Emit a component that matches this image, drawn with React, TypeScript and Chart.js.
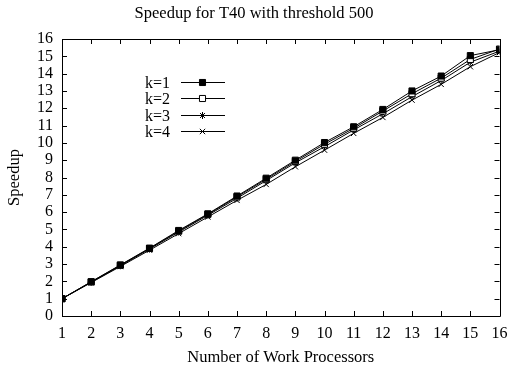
import React, { useEffect, useRef } from "react";
import { Chart, registerables } from "chart.js";
import { drawPoint } from "chart.js/helpers";

Chart.register(...registerables);

const processors = [1, 2, 3, 4, 5, 6, 7, 8, 9, 10, 11, 12, 13, 14, 15, 16];
const seriesLabels = ["k=1", "k=2", "k=3", "k=4"];
const k1 = [1, 1.98, 2.95, 3.92, 4.94, 5.9, 6.93, 7.96, 9.0, 10.02, 10.93, 11.93, 13.0, 13.86, 15.04, 15.38];
const k2 = [1, 1.97, 2.93, 3.9, 4.9, 5.87, 6.88, 7.9, 8.93, 9.92, 10.84, 11.84, 12.84, 13.74, 14.82, 15.42];
const k3 = [1, 1.95, 2.9, 3.87, 4.85, 5.82, 6.8, 7.82, 8.85, 9.78, 10.75, 11.68, 12.67, 13.6, 14.66, 15.3];
const k4 = [1, 1.93, 2.86, 3.8, 4.76, 5.72, 6.68, 7.6, 8.62, 9.58, 10.55, 11.47, 12.47, 13.38, 14.4, 15.22];
const seriesValues = [k1, k2, k3, k4];
const pointStyles = ["rect", "rect", "star", "crossRot"];
const pointFills = ["#000000", "#ffffff", "#000000", "#000000"];
const pointRadii = [4.3, 4.3, 3.5, 3.8];

const FONT = "'Liberation Serif', 'Times New Roman', serif";

const framePlugin = {
  id: "gnuplotFrame",
  beforeDatasetsDraw(chart: any) {
    const { ctx, chartArea } = chart;
    const { left, right, top, bottom } = chartArea;
    const xs = chart.scales.x;
    const ys = chart.scales.y;
    const tl = 5;
    ctx.save();
    ctx.strokeStyle = "#000";
    ctx.lineWidth = 1;
    ctx.beginPath();
    for (let v = 1; v <= 16; v++) {
      const x = Math.round(xs.getPixelForValue(v)) + 0.5;
      ctx.moveTo(x, bottom);
      ctx.lineTo(x, bottom - tl);
      ctx.moveTo(x, top);
      ctx.lineTo(x, top + tl);
    }
    for (let v = 0; v <= 16; v++) {
      const y = Math.round(ys.getPixelForValue(v)) + 0.5;
      ctx.moveTo(left, y);
      ctx.lineTo(left + tl, y);
      ctx.moveTo(right, y);
      ctx.lineTo(right - tl, y);
    }
    ctx.stroke();
    ctx.beginPath();
    ctx.rect(Math.round(left) + 0.5, Math.round(top) + 0.5, Math.round(right - left), Math.round(bottom - top));
    ctx.stroke();
    ctx.restore();
  },
  afterDraw(chart: any) {
    const { ctx } = chart;
    ctx.save();
    ctx.font = "16px " + FONT;
    ctx.textAlign = "right";
    ctx.textBaseline = "middle";
    chart.data.datasets.forEach((ds: any, i: number) => {
      const y = Math.round(82 + 16.3 * i) + 0.5;
      ctx.fillStyle = "#000";
      ctx.fillText(ds.label, 170, y + 1);
      ctx.strokeStyle = "#000";
      ctx.lineWidth = 1;
      ctx.beginPath();
      ctx.moveTo(181, y);
      ctx.lineTo(225, y);
      ctx.stroke();
      ctx.fillStyle = ds.pointBackgroundColor;
      ctx.strokeStyle = "#000";
      drawPoint(ctx, { pointStyle: ds.pointStyle, radius: ds.pointRadius, rotation: 0, borderWidth: 1 }, 202.5, y);
    });
    ctx.restore();
  },
};

export default function App() {
  const ref = useRef<HTMLCanvasElement>(null);
  useEffect(() => {
    if (!ref.current) return;
    const chart = new Chart(ref.current, {
      type: "line",
      data: {
        datasets: seriesValues.map((vals, i) => ({
          label: seriesLabels[i],
          data: processors.map((p, j) => ({ x: p, y: vals[j] })),
          borderColor: "#000",
          borderWidth: 1,
          pointStyle: pointStyles[i],
          pointRadius: pointRadii[i],
          pointBackgroundColor: pointFills[i],
          pointBorderColor: "#000",
          pointBorderWidth: 1,
          tension: 0,
          fill: false,
        })),
      },
      options: {
        animation: false,
        responsive: false,
        devicePixelRatio: 1,
        layout: { padding: { left: 0, right: 8, top: 0, bottom: 0 } },
        plugins: {
          legend: { display: false },
          tooltip: { enabled: false },
          title: {
            display: true,
            text: "Speedup for T40 with threshold 500",
            color: "#000",
            font: { family: FONT, size: 16.5, weight: "normal" },
            padding: { top: 4, bottom: 15.2 },
          },
        },
        scales: {
          x: {
            type: "linear",
            min: 1,
            max: 16,
            grid: { display: false, drawTicks: false },
            border: { display: false },
            ticks: { stepSize: 1, autoSkip: false, maxRotation: 0, color: "#000", padding: 8.5, font: { family: FONT, size: 16 } },
            title: {
              display: true,
              text: "Number of Work Processors",
              color: "#000",
              font: { family: FONT, size: 16.5 },
              padding: { top: 0, bottom: 1 },
            },
            afterFit(scale: any) {
              scale.height = 53;
            },
          },
          y: {
            type: "linear",
            min: 0,
            max: 16,
            grid: { display: false, drawTicks: false },
            border: { display: false },
            ticks: { stepSize: 1, autoSkip: false, color: "#000", padding: 9, font: { family: FONT, size: 16 } },
            title: {
              display: true,
              text: "Speedup",
              color: "#000",
              font: { family: FONT, size: 16.5 },
              padding: { top: 5, bottom: 0 },
            },
            afterFit(scale: any) {
              scale.width = 62;
            },
          },
        },
      } as any,
      plugins: [framePlugin],
    });
    return () => chart.destroy();
  }, []);
  return (
    <div style={{ position: "absolute", left: 0, top: 0, width: 516, height: 369, background: "#fff" }}>
      <canvas ref={ref} width={516} height={369} style={{ display: "block", width: 516, height: 369 }} />
    </div>
  );
}
